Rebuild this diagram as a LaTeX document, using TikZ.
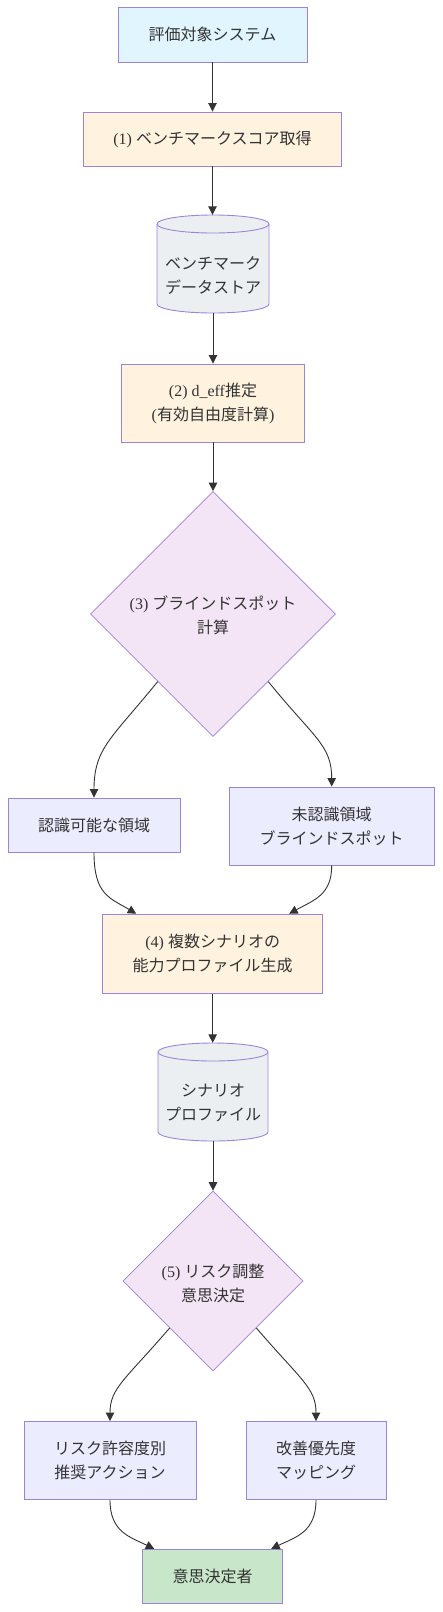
\documentclass[tikz,border=0pt]{standalone}
\usepackage{fontspec}
\setmainfont{Liberation Serif}
\newfontfamily\jp{Noto Sans CJK JP}
\usetikzlibrary{shapes.geometric,arrows.meta,calc}
\definecolor{txt}{HTML}{333333}
\definecolor{nstroke}{HTML}{9C84DA}
\definecolor{lnk}{HTML}{333333}
\definecolor{blueF}{HTML}{E1F5FE}
\definecolor{orangeF}{HTML}{FFF3E0}
\definecolor{cylF}{HTML}{ECEFF1}
\definecolor{purpleF}{HTML}{F3E5F5}
\definecolor{defF}{HTML}{ECECFF}
\definecolor{greenF}{HTML}{C8E6C9}
\begin{document}
\begin{tikzpicture}[x=1pt,y=-1pt,
  lbl/.style={text=txt, font=\fontsize{16pt}{24pt}\selectfont, align=center, inner sep=0pt},
  box/.style={lbl, draw=nstroke, line width=0.9pt, rectangle},
  dia/.style={lbl, draw=nstroke, line width=0.7pt, diamond, fill=purpleF},
  holder/.style={inner sep=0pt, rectangle},
  cyl/.style={draw=nstroke, line width=0.9pt, fill=cylF},
  arr/.style={draw=lnk, line width=0.9pt, -{Triangle[length=8.5pt,width=8.5pt]}}
]
\useasboundingbox (0,0) rectangle (442,1612);

% top chain
\node[box, fill=blueF, minimum width=189pt, minimum height=55pt] (n1) at (212.5,34.5) {\jp 評価対象システム};
\node[box, fill=orangeF, minimum width=258pt, minimum height=54pt] (n2) at (212.5,139) {(1) {\jp ベンチマークスコア取得}};

% cylinder 1
\path[cyl] (157,224) -- (157,304) arc[start angle=180, end angle=360, x radius=56pt, y radius=9pt] -- (269,224) arc[start angle=0, end angle=180, x radius=56pt, y radius=9pt] -- cycle;
\draw[draw=nstroke, line width=0.9pt] (157,224) arc[start angle=180, end angle=360, x radius=56pt, y radius=9pt];
\node[holder, minimum width=112pt, minimum height=98pt] (c1) at (213,264) {};
\node[lbl] (c1t) at (213,275.5) {\jp ベンチマーク\\\jp データストア};

\node[box, fill=orangeF, minimum width=183pt, minimum height=78pt] (n3) at (213,403) {(2) d\_eff{\jp 推定}\\({\jp 有効自由度計算})};

\node[dia, minimum width=245pt, minimum height=245pt] (d1) at (213,614) {};
\node[lbl] (d1t) at (213,615) {(3) {\jp ブラインドスポット}\\\jp 計算};

\node[box, fill=defF, minimum width=172pt, minimum height=54pt] (a) at (94,825) {\jp 認識可能な領域};
\node[box, fill=defF, minimum width=205pt, minimum height=78pt] (b) at (331.7,826) {\jp 未認識領域\\\jp ブラインドスポット};

\node[box, fill=orangeF, minimum width=220pt, minimum height=79pt] (n4) at (212.7,953.7) {(4) {\jp 複数シナリオの}\\\jp 能力プロファイル生成};

% cylinder 2
\path[cyl] (158,1052) -- (158,1132) arc[start angle=180, end angle=360, x radius=55pt, y radius=9pt] -- (268,1052) arc[start angle=0, end angle=180, x radius=55pt, y radius=9pt] -- cycle;
\draw[draw=nstroke, line width=0.9pt] (158,1052) arc[start angle=180, end angle=360, x radius=55pt, y radius=9pt];
\node[holder, minimum width=110pt, minimum height=98pt] (c2) at (213,1092) {};
\node[lbl] (c2t) at (213,1103) {\jp シナリオ\\\jp プロファイル};

\node[dia, minimum width=180pt, minimum height=180pt] (d2) at (213,1281) {};
\node[lbl] (d2t) at (213,1283) {(5) {\jp リスク調整}\\\jp 意思決定};

\node[box, fill=defF, minimum width=172pt, minimum height=78pt] (e) at (110,1460.5) {\jp リスク許容度別\\\jp 推奨アクション};
\node[box, fill=defF, minimum width=140pt, minimum height=78pt] (f) at (316,1460.5) {\jp 改善優先度\\\jp マッピング};
\node[box, fill=greenF, minimum width=140pt, minimum height=54pt] (g) at (212.7,1576.3) {\jp 意思決定者};

% connectors
\draw[arr] (n1.south) -- (n1.south |- n2.north);
\draw[arr] (n2.south) -- (n2.south |- c1.north);
\draw[arr] (c1.south) -- (c1.south |- n3.north);
\draw[arr] (n3.south) -- (n3.south |- d1.north);

\coordinate (d1l) at ($(d1.west)!0.55!(d1.south)$);
\coordinate (d1r) at ($(d1.east)!0.55!(d1.south)$);
\draw[arr] (d1l) .. controls (112,738) and (94,748) .. (a.north);
\draw[arr] (d1r) .. controls (314,738) and (331.7,745) .. (b.north);

\draw[arr] (a.south) .. controls (94,895) and (110,898) .. ([xshift=34pt]n4.north west);
\draw[arr] (b.south) .. controls (331.7,895) and (314,900) .. ([xshift=-34pt]n4.north east);

\draw[arr] (n4.south) -- (n4.south |- c2.north);
\draw[arr] (c2.south) -- (c2.south |- d2.north);

\coordinate (d2l) at ($(d2.west)!0.52!(d2.south)$);
\coordinate (d2r) at ($(d2.east)!0.52!(d2.south)$);
\draw[arr] (d2l) .. controls (125,1380) and (110,1388) .. (e.north);
\draw[arr] (d2r) .. controls (301,1380) and (316,1388) .. (f.north);

\draw[arr] (e.south) .. controls (110,1532) and (130,1537) .. ([xshift=12pt]g.north west);
\draw[arr] (f.south) .. controls (316,1532) and (296,1537) .. ([xshift=-12pt]g.north east);
\end{tikzpicture}
\end{document}
